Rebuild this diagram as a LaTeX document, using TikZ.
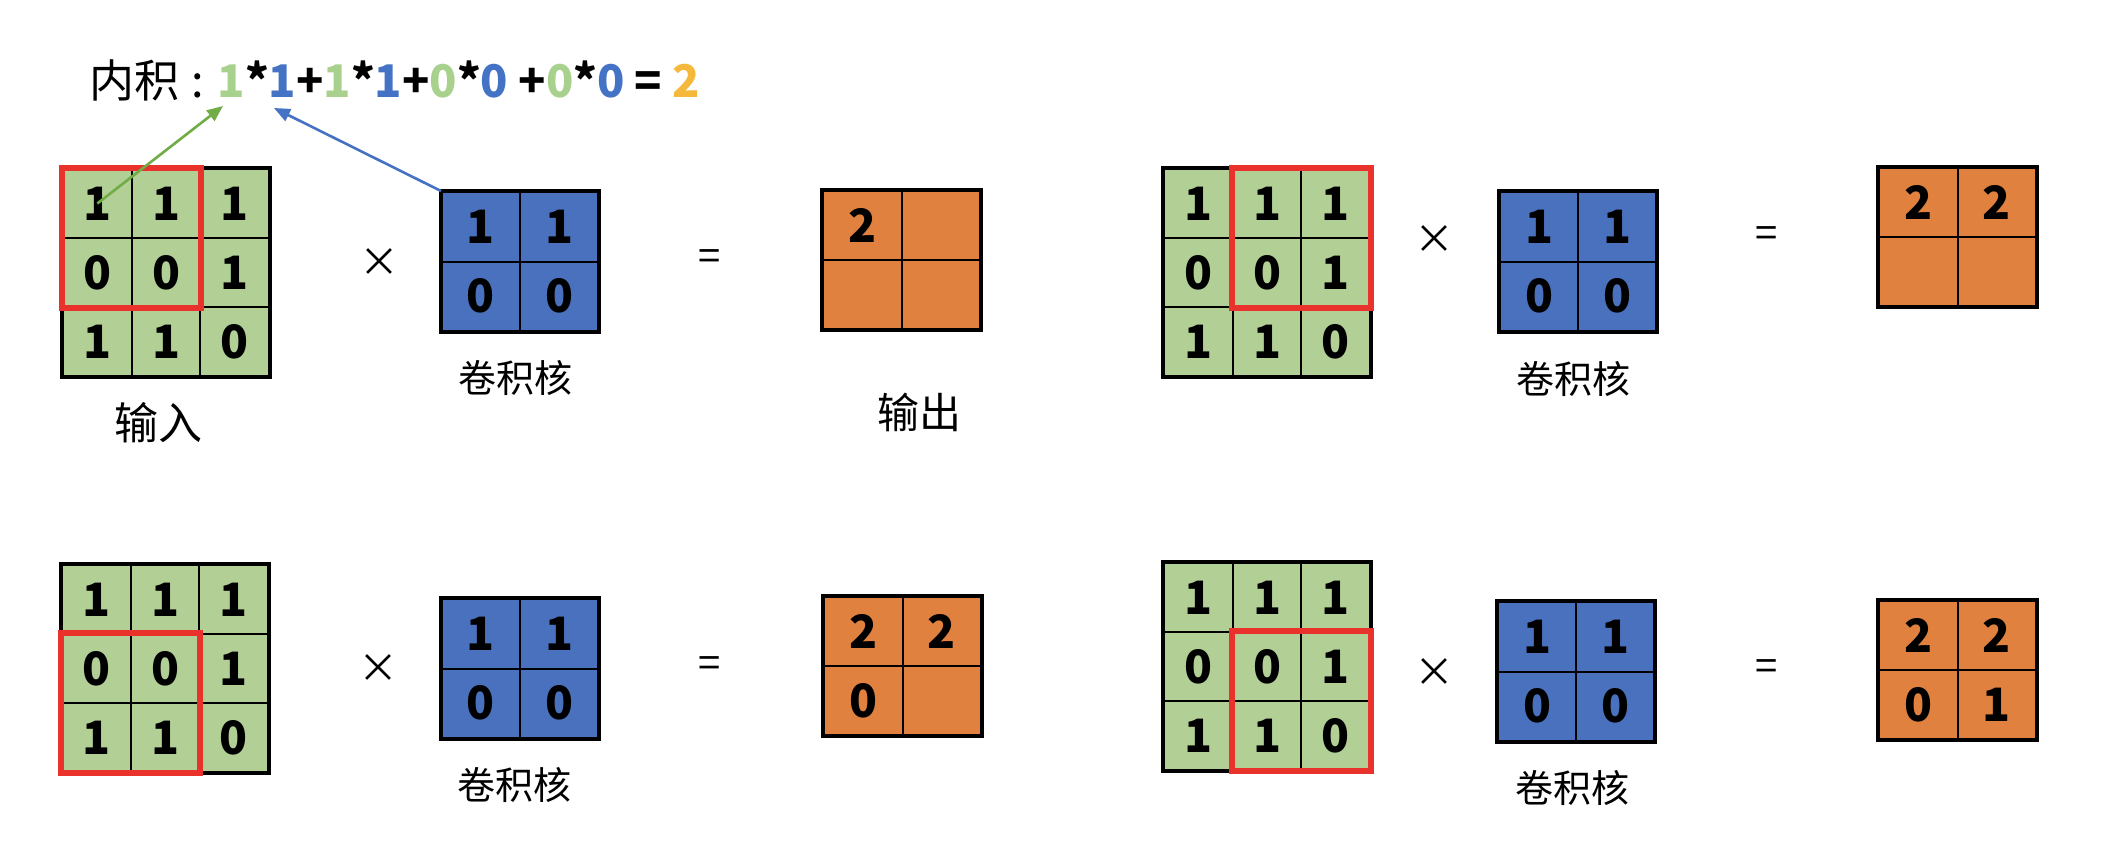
\documentclass[tikz,border=0pt]{standalone}
\usepackage{fontspec}
\setmainfont{Noto Sans CJK SC}
\usetikzlibrary{arrows.meta}
\definecolor{cgreen}{HTML}{B2CF96}
\definecolor{cblue}{HTML}{4A71BD}
\definecolor{corange}{HTML}{E0813F}
\definecolor{cred}{HTML}{E8322B}
\definecolor{tgreen}{HTML}{A9D18E}
\definecolor{tblue}{HTML}{4472C4}
\definecolor{tgold}{HTML}{F5B83A}
\definecolor{agreen}{HTML}{70AD47}
\newcommand\mkgrid[9]{% style, name, ncols, nrows, cw, ch, x0, y0, values
  \foreach \v [count=\i from 0] in {#9} {
    \pgfmathtruncatemacro\rr{floor(\i/#3)+1}
    \pgfmathtruncatemacro\cc{mod(\i,#3)+1}
    \node[#1, minimum width=#5pt, minimum height=#6pt] (#2-\rr-\cc)
      at ({#7+#5*(\cc-0.5)},{#8+#6*(\rr-0.5)}) {\v};
  }
  \draw[frame] (#2-1-1.north west) rectangle (#2-#4-#3.south east);}
\begin{document}
\begin{tikzpicture}[x=1pt,y=-1pt,
  cell/.style={draw=black, line width=2pt, inner sep=0pt,
    font=\fontsize{46}{46}\selectfont\bfseries},
  frame/.style={draw=black, line width=3.2pt},
  gcell/.style={cell, fill=cgreen},
  bcell/.style={cell, fill=cblue},
  ocell/.style={cell, fill=corange},
  redbox/.style={draw=cred, line width=6pt},
  op/.style={font=\fontsize{40}{40}\selectfont, inner sep=0pt},
  lbl/.style={font=\fontsize{#1}{#1}\selectfont, inner sep=0pt},
  arr/.style={line width=2.6pt, -{Triangle[length=16pt,width=13pt]}}
]
\useasboundingbox (0,0) rectangle (2103,867);
\fill[white] (0,0) rectangle (2103,867);

% title
\node[anchor=base west, inner sep=0pt, font=\fontsize{45}{45}\selectfont] (title) at (89,97)
  {内积\hspace{12pt}:\hspace{14pt}\textbf{\textcolor{tgreen}{1}*\textcolor{tblue}{1}+\textcolor{tgreen}{1}*\textcolor{tblue}{1}+\textcolor{tgreen}{0}*\textcolor{tblue}{0} +\textcolor{tgreen}{0}*\textcolor{tblue}{0} = \textcolor{tgold}{2}}};
\coordinate (tg) at (223,106);
\coordinate (tb) at (274,108);

% ---------- top left ----------
\mkgrid{gcell}{ga}{3}{3}{68.7}{69}{63}{169}{1,1,1,0,0,1,1,1,0}
\draw[redbox] (ga-1-1.north west) rectangle (ga-2-2.south east);
\node[op] (xa) at (379,263) {×};
\mkgrid{bcell}{ba}{2}{2}{78}{69.5}{442}{192}{1,1,0,0}
\node[op] (ea) at (710,260) {=};
\mkgrid{ocell}{oa}{2}{2}{78.5}{69}{823}{191}{2,{},{},{}}
\node[lbl=38] (ka) at (515,378) {卷积核};
\node[lbl=44] (in) at (158,423) {输入};
\node[lbl=42] (out) at (919,412) {输出};
\draw[arr, agreen] (ga-1-1.center) -- (tg);
\draw[arr, tblue] (ba-1-1.north west) -- (tb);

% ---------- top right ----------
\mkgrid{gcell}{gb}{3}{3}{68.7}{69}{1164}{169}{1,1,1,0,0,1,1,1,0}
\draw[redbox] (gb-1-2.north west) rectangle (gb-2-3.south east);
\node[op] (xb) at (1434,240) {×};
\mkgrid{bcell}{bb}{2}{2}{78}{69.5}{1500}{192}{1,1,0,0}
\node[op] (eb) at (1767,237) {=};
\mkgrid{ocell}{ob}{2}{2}{78.5}{69}{1879}{168}{2,2,{},{}}
\node[lbl=38] (kb) at (1573,379) {卷积核};

% ---------- bottom left ----------
\mkgrid{gcell}{gc}{3}{3}{68.7}{69}{62}{565}{1,1,1,0,0,1,1,1,0}
\draw[redbox] (gc-2-1.north west) rectangle (gc-3-2.south east);
\node[op] (xc) at (378,669) {×};
\mkgrid{bcell}{bc}{2}{2}{78}{69.5}{442}{599}{1,1,0,0}
\node[op] (ec) at (710,667) {=};
\mkgrid{ocell}{oc}{2}{2}{78.5}{69}{824}{597}{2,2,0,{}}
\node[lbl=38] (kc) at (514,785) {卷积核};

% ---------- bottom right ----------
\mkgrid{gcell}{gd}{3}{3}{68.7}{69}{1164}{563}{1,1,1,0,0,1,1,1,0}
\draw[redbox] (gd-2-2.north west) rectangle (gd-3-3.south east);
\node[op] (xd) at (1434,673) {×};
\mkgrid{bcell}{bd}{2}{2}{78}{69.5}{1498}{602}{1,1,0,0}
\node[op] (ed) at (1767,670) {=};
\mkgrid{ocell}{od}{2}{2}{78.5}{69}{1879}{601}{2,2,0,1}
\node[lbl=38] (kd) at (1572,788) {卷积核};
\end{tikzpicture}
\end{document}
